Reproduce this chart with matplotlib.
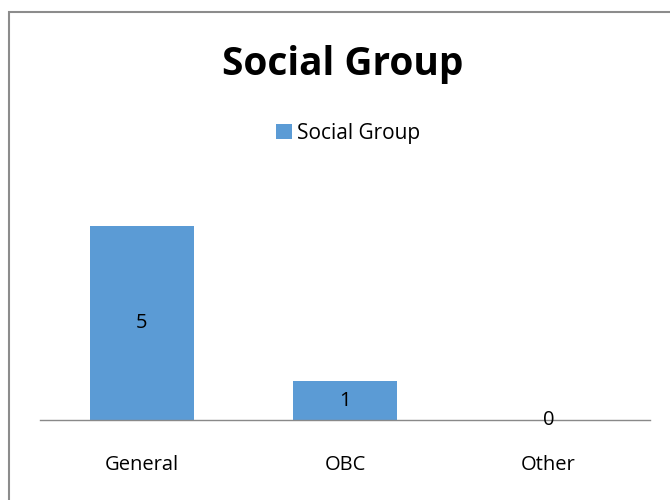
import matplotlib.pyplot as plt
from matplotlib.patches import Rectangle

# chart data
categories = ["General", "OBC", "Other"]
counts = [5, 1, 0]
series_name = "Social Group"

plt.rcParams['font.family'] = ['Open Sans', 'DejaVu Sans']

fig = plt.figure(figsize=(6.7, 5), dpi=100)
ax = fig.add_axes([40 / 670, 80 / 500, 610 / 670, 233 / 500])

bar_color = '#5B9BD5'
x = range(len(categories))
bars = ax.bar(x, counts, width=0.51, color=bar_color, label=series_name)

for xi, val in zip(x, counts):
    ax.text(xi, val / 2, str(val), ha='center', va='center', fontsize=14.5,
            color='black', transform=ax.transData)

ax.set_xlim(-0.5, len(categories) - 0.5)
ax.set_ylim(0, 6)
ax.set_xticks(list(x))
ax.set_xticklabels(categories, fontsize=14.5)
ax.tick_params(axis='x', length=0, pad=25)
ax.set_yticks([])
for side in ['left', 'right', 'top']:
    ax.spines[side].set_visible(False)
ax.spines['bottom'].set_color('#898989')
ax.spines['bottom'].set_linewidth(1.0)

fig.text(343 / 670, 1 - 64 / 500, "Social Group", ha='center', va='center',
         fontsize=28, fontweight='bold')

fig.legend(handles=[bars], labels=[series_name], loc='center',
           bbox_to_anchor=(348 / 670, 1 - 133 / 500), frameon=False,
           fontsize=15, handlelength=0.75, handleheight=0.75, handletextpad=0.25)

# outer chart border (only left and top edges fall inside the picture)
fig.patches.append(Rectangle((8.5 / 670, -0.1), 1.2, 1.1 - 12.5 / 500,
                             transform=fig.transFigure, fill=False,
                             edgecolor='#8c8c8c', linewidth=1.5))

fig.savefig('out.png', dpi=100)
